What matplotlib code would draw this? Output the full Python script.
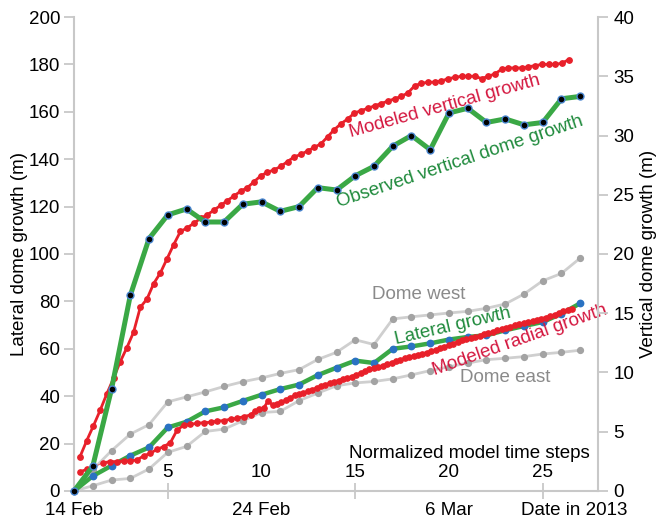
import numpy as np
import matplotlib
matplotlib.use("Agg")
import matplotlib.pyplot as plt

plt.rcParams['font.family'] = ['Liberation Sans', 'DejaVu Sans']

# ---------------- data ----------------
days = list(range(28))  # observation days since 14 Feb 2013

obs_vertical = [0, 2.1, 8.6, 16.5, 21.3, 23.3, 23.8, 22.7, 22.7, 24.2, 24.4, 23.6, 24.0, 25.6,
                25.4, 26.6, 27.4, 29.1, 30.0, 28.8, 31.9, 32.3, 31.1, 31.4, 30.9, 31.1, 33.1, 33.3]

lateral = [0, 6.3, 10.7, 14.9, 18.4, 26.8, 29.2, 33.6, 35.3, 38.0, 40.6, 43.0, 44.9, 48.9,
           52.0, 55.0, 54.0, 60.0, 61.0, 62.3, 63.9, 65.0, 65.7, 67.8, 69.6, 71.3, 74.8, 79.2]

dome_west = [0, 9.0, 17.0, 24.0, 28.0, 37.6, 39.7, 41.8, 44.1, 46.1, 47.7, 49.6, 51.2, 55.5,
             58.5, 63.8, 61.8, 72.6, 73.5, 74.3, 75.1, 75.8, 77.1, 78.9, 83.1, 88.7, 91.8, 98.3]

dome_east = [0, 2.2, 4.6, 5.3, 9.3, 16.3, 18.8, 25.1, 26.1, 29.6, 33.1, 33.6, 38.1, 41.3,
             44.4, 45.6, 46.2, 47.3, 49.0, 50.8, 52.4, 54.0, 55.4, 56.0, 56.7, 57.8, 58.5, 59.4]

# modeled vertical growth (right axis), model time steps
model_vert_t = 0.32 + 0.357 * np.arange(74)
model_vert = [2.9, 4.25, 5.5, 6.8, 8.2, 9.5, 10.9, 12.1, 13.4, 15.5, 16.2, 17.5, 18.4, 19.6, 20.8,
              21.9, 22.2,
              22.6, 23.0, 23.3, 23.7, 24.1, 24.5, 24.9, 25.3, 25.6, 26.1, 26.6, 26.9, 27.1, 27.4,
              27.8, 28.2, 28.4, 28.7, 29.0, 29.3, 29.9,
              30.5, 31.0, 31.4, 31.9, 32.1, 32.3, 32.5, 32.7, 32.9, 33.1, 33.3, 33.6, 34.2, 34.4,
              34.5, 34.5, 34.6, 34.8, 34.9, 35.0, 35.0, 35.0, 34.8, 35.0, 35.2, 35.6, 35.7, 35.7,
              35.7, 35.8, 35.9, 36.0, 36.0, 36.0, 36.1, 36.4]

# modeled radial growth (left axis)
radial_t0 = [0.32, 0.68]
radial_0 = [8.1, 9.1]
radial_t = np.concatenate([1.57 + 0.357 * np.arange(23), 9.65 + 0.235 * np.arange(73)])
radial = [11.9, 12.4, 12.4, 12.7, 12.7, 13.1, 14.8, 15.9, 17.6, 18.7, 20.4, 25.7, 27.8, 28.1,
          28.6, 28.8, 29.0, 29.5, 29.7, 30.3, 30.7, 31.4, 32.1,
          33.7, 34.4, 35.0, 38.1, 36.2, 36.9, 37.5, 38.3, 39.3, 40.3, 40.8, 41.4, 42.1, 42.7,
          43.5, 44.2, 44.8, 45.5, 46.1, 46.6, 47.2, 47.7, 48.3, 49.0, 49.8, 50.5, 51.3, 51.9,
          52.3, 52.9, 53.6, 54.1, 54.7, 55.3, 56.0, 56.5, 57.0, 57.5, 57.9, 58.4, 59.0, 59.6,
          60.2, 60.9, 61.5, 62.2, 62.9, 63.6, 64.2, 64.6, 65.0, 65.5, 66.1, 66.7, 67.2, 67.8,
          68.4, 68.9, 69.4, 69.9, 70.3, 70.8, 71.3, 71.7, 72.2, 72.7, 73.2, 73.8, 74.4, 75.0,
          75.8, 76.5, 77.0]

date_ticks = [0, 10, 20]
date_labels = ['14 Feb', '24 Feb', '6 Mar']
step_ticks = [5, 10, 15, 20, 25]
left_ticks = list(range(0, 201, 20))
right_ticks = list(range(0, 41, 5))

# ---------------- style ----------------
GREEN = '#3aa845'
GREEN_TXT = '#1f8a3c'
RED = '#e8202a'
RED_TXT = '#d4173f'
GRAY_LINE = '#cfcfcf'
GRAY_DOT = '#a3a3a3'
GRAY_TXT = '#8a8a8a'
BLUE = '#2a72c2'
SPINE = '#c8c8c8'
FS = 13.5

fig = plt.figure(figsize=(6.67, 5.25), dpi=100)
ax = fig.add_axes([0.111, 0.0648, 0.7856, 0.9028])
ax2 = ax.twinx()

# gray dome lines
for series in (dome_west, dome_east):
    ax.plot(days, series, '-', color=GRAY_LINE, lw=2.0, marker='o', ms=4.2,
            mfc=GRAY_DOT, mec=GRAY_DOT, zorder=2, clip_on=False)

# lateral growth (green, blue dots)
ax.plot(days, lateral, '-', color=GREEN, lw=3.2, marker='o', ms=4.6, mfc=BLUE, mec=BLUE,
        zorder=3, clip_on=False)

# modeled radial growth
ax.plot(radial_t0, radial_0, '-', color=RED, lw=2.0, marker='o', ms=3.8, mfc=RED, mec=RED,
        zorder=4)
ax.plot([radial_t0[-1], radial_t[0]], [radial_0[-1], radial[0]], '-', color=RED, lw=0.7,
        alpha=0.6, zorder=4)
ax.plot(radial_t, radial, '-', color=RED, lw=2.0, marker='o', ms=3.8, mfc=RED, mec=RED,
        zorder=4)

# right-axis series
ax2.plot(model_vert_t, model_vert, '-', color=RED, lw=2.0, marker='o', ms=3.9, mfc=RED,
         mec=RED, zorder=2)
ax2.plot(days, obs_vertical, '-', color=GREEN, lw=3.6, marker='o', ms=5.0, mfc='black',
         mec='#4a86d0', mew=1.0, zorder=3, clip_on=False)

# ---------------- axes ----------------
ax.set_xlim(0, 27.95)
ax.set_ylim(0, 200)
ax2.set_ylim(0, 40)

for a in (ax, ax2):
    a.spines['top'].set_visible(False)
    for s in a.spines.values():
        s.set_color(SPINE)
        s.set_linewidth(1.5)
ax2.spines['left'].set_visible(False)
ax2.spines['bottom'].set_visible(False)
ax.spines['right'].set_visible(False)

ax.set_yticks(left_ticks)
ax2.set_yticks(right_ticks)
ax.tick_params(axis='y', direction='out', length=7, width=1.3, color=SPINE,
               labelsize=FS, pad=3)
ax2.tick_params(axis='y', direction='out', length=7, width=1.3, color=SPINE,
                labelsize=FS, pad=4)

ax.set_xticks(date_ticks)
ax.set_xticklabels(date_labels)
ax.set_xticks(step_ticks, minor=True)
ax.tick_params(axis='x', which='major', length=0, labelsize=FS, pad=8)
ax.tick_params(axis='x', which='minor', direction='inout', length=12, width=1.3, color=SPINE)

for s in step_ticks:
    ax.annotate(str(s), xy=(s, 0), xycoords=('data', 'axes fraction'), xytext=(0, 13),
                textcoords='offset points', ha='center', va='center', fontsize=FS)
ax.annotate('Date in 2013', xy=(26.67, 0), xycoords=('data', 'axes fraction'),
            xytext=(0, -8), textcoords='offset points', ha='center', va='top', fontsize=FS)
ax.text(21.07, 16, 'Normalized model time steps', ha='center', va='center', fontsize=FS)

ax.set_ylabel('Lateral dome growth (m)', fontsize=FS)
ax.yaxis.set_label_coords(-0.088, 0.5)
ax2.set_ylabel('Vertical dome growth (m)', fontsize=FS, rotation=90)
ax2.yaxis.set_label_coords(1.08, 0.5)

# ---------------- annotations ----------------
ax2.text(19.8, 32.45, 'Modeled vertical growth', color=RED_TXT, fontsize=FS, rotation=15.5,
         ha='center', va='center', rotation_mode='anchor', zorder=5)
ax2.text(20.6, 27.8, 'Observed vertical dome growth', color=GREEN_TXT, fontsize=FS,
         rotation=18.5, ha='center', va='center', rotation_mode='anchor', zorder=5)
ax.text(18.4, 82.7, 'Dome west', color=GRAY_TXT, fontsize=FS, ha='center', va='center')
ax.text(20.2, 69.3, 'Lateral growth', color=GREEN_TXT, fontsize=FS, rotation=13,
        ha='center', va='center', rotation_mode='anchor', zorder=5)
ax.text(23.8, 63.8, 'Modeled radial growth', color=RED_TXT, fontsize=FS, rotation=19.5,
        ha='center', va='center', rotation_mode='anchor', zorder=5)
ax.text(23.0, 47.7, 'Dome east', color=GRAY_TXT, fontsize=FS, ha='center', va='center')

fig.savefig('out.png', dpi=100)
